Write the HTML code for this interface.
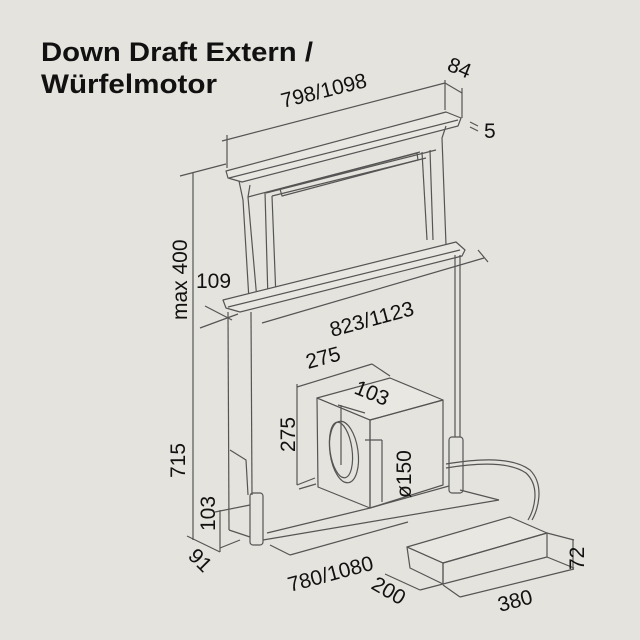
<!DOCTYPE html>
<html><head><meta charset="utf-8"><style>
html,body{margin:0;padding:0;background:#e5e3dd;}
svg{display:block;}
text{font-family:"Liberation Sans",Arial,sans-serif;fill:#111;}
</style></head><body>
<svg width="640" height="640" viewBox="0 0 640 640" xmlns="http://www.w3.org/2000/svg">
<rect width="640" height="640" fill="#e5e3dd"/>
<text x="41" y="61" font-size="27" font-weight="bold" textLength="272" lengthAdjust="spacingAndGlyphs">Down Draft Extern /</text>
<text x="41" y="93" font-size="27" font-weight="bold" textLength="176" lengthAdjust="spacingAndGlyphs">Würfelmotor</text>

<g fill="none" stroke="#555" stroke-width="1.2" stroke-linejoin="round">
<polygon points="226,171 446,112 461,118 458,126 242,182 228,178" fill="#e9e7e1"/>
<line x1="229" y1="178" x2="458" y2="120"/>
<line x1="222" y1="141" x2="445" y2="83"/>
<line x1="227" y1="135" x2="227" y2="168"/>
<line x1="445" y1="80" x2="445" y2="110"/>
<line x1="445" y1="83" x2="462" y2="93"/>
<line x1="462" y1="88" x2="462" y2="118"/>
<line x1="470" y1="122" x2="478" y2="126"/><line x1="470" y1="127" x2="478" y2="131"/>
<polyline points="239,181 243,200 249,300"/>
<polyline points="250,185 248,197 257,300"/>
<line x1="248" y1="197" x2="420" y2="152"/>
<line x1="265" y1="192" x2="268" y2="300"/>
<line x1="266" y1="193" x2="436" y2="150"/>
<line x1="272" y1="196" x2="276" y2="298"/>
<line x1="272" y1="196" x2="426" y2="158"/>
<polygon points="280,189 417,153 418,160 282,196"/>
<line x1="422" y1="152" x2="427" y2="240"/>
<line x1="430" y1="150" x2="433" y2="240"/>
<polyline points="446,126 442,138 446,245"/>
<polygon points="223,300 456,242 465,250 462,256 240,312 226,308" fill="#e9e7e1"/>
<line x1="228" y1="307" x2="460" y2="250"/>
<line x1="262" y1="323" x2="484" y2="258"/>
<line x1="478" y1="250" x2="488" y2="262"/>
<line x1="205" y1="306" x2="232" y2="320"/>
<line x1="200" y1="328" x2="238" y2="314"/>
<line x1="193" y1="173" x2="193" y2="540"/>
<line x1="180" y1="176" x2="226" y2="164"/>
<line x1="228" y1="312" x2="229" y2="530"/>
<line x1="251" y1="312" x2="252" y2="495"/>
<polyline points="230,450 246,460 248,495"/>
<line x1="229" y1="530" x2="250" y2="537"/>
<rect x="250" y="493" width="13" height="52" rx="3"/>
<line x1="455" y1="255" x2="455" y2="437"/>
<line x1="460" y1="255" x2="460" y2="437"/>
<rect x="449" y="437" width="14" height="56" rx="3"/>
<line x1="267" y1="533" x2="370" y2="508"/>
<line x1="299" y1="489" x2="316" y2="484"/>
<line x1="263" y1="540" x2="499" y2="500"/>
<line x1="460" y1="490" x2="499" y2="500"/>
<line x1="370" y1="508" x2="449" y2="486"/>
<line x1="270" y1="545" x2="290" y2="555"/>
<line x1="290" y1="555" x2="408" y2="522"/>
<line x1="220" y1="548" x2="240" y2="540"/>
<line x1="220" y1="510" x2="220" y2="552"/>
<line x1="215" y1="512" x2="250" y2="505"/>
<line x1="187" y1="536" x2="220" y2="552"/>
<polygon points="317,398 390,378 443,400 370,420" fill="#e9e7e1"/>
<polygon points="317,398 370,420 370,508 318,487"/>
<polygon points="370,420 443,400 443,485 370,508"/>
<ellipse cx="344" cy="452" rx="14" ry="31" transform="rotate(-8 344 452)"/>
<ellipse cx="341" cy="450" rx="11" ry="28" transform="rotate(-8 341 450)"/>
<line x1="341" y1="405" x2="341" y2="465"/>
<line x1="338" y1="405" x2="365" y2="413"/>
<line x1="297" y1="387" x2="372" y2="364"/>
<line x1="297" y1="384" x2="297" y2="485"/>
<line x1="372" y1="364" x2="390" y2="376"/>
<line x1="297" y1="485" x2="315" y2="478"/>
<line x1="382" y1="440" x2="382" y2="502"/>
<line x1="365" y1="440" x2="382" y2="440"/>
<path d="M446,464 C470,460 510,455 530,470 C545,485 538,510 532,520"/>
<path d="M446,468 C470,464 507,460 526,473 C541,487 534,510 528,520"/>
<polygon points="407,547 510,517 547,533 443,563" fill="#e9e7e1"/>
<polygon points="443,563 547,533 547,557 443,584"/>
<polygon points="407,547 443,563 443,584 410,568"/>
<line x1="547" y1="533" x2="574" y2="540"/>
<line x1="547" y1="557" x2="574" y2="568"/>
<line x1="573" y1="540" x2="573" y2="569"/>
<line x1="385" y1="574" x2="420" y2="590"/>
<line x1="420" y1="590" x2="443" y2="584"/>
<line x1="443" y1="585" x2="460" y2="597"/>
<line x1="460" y1="597" x2="574" y2="569"/>
</g>

<g font-size="21">
<text x="0" y="0" transform="translate(283,108) rotate(-14)">798/1098</text>
<text x="0" y="0" transform="translate(446,70) rotate(22)">84</text>
<text x="484" y="138">5</text>
<text x="0" y="0" transform="translate(187,320) rotate(-90)">max 400</text>
<text x="196" y="288">109</text>
<text x="0" y="0" transform="translate(332,337) rotate(-15)">823/1123</text>
<text x="0" y="0" transform="translate(308,369) rotate(-15)">275</text>
<text x="0" y="0" transform="translate(353,393) rotate(22)">103</text>
<text x="0" y="0" transform="translate(295,452) rotate(-90)">275</text>
<text x="0" y="0" transform="translate(411,498) rotate(-90)">ø150</text>
<text x="0" y="0" transform="translate(185,478) rotate(-90)">715</text>
<text x="0" y="0" transform="translate(215,531) rotate(-90)">103</text>
<text x="0" y="0" transform="translate(187,557) rotate(45)">91</text>
<text x="0" y="0" transform="translate(290,592) rotate(-15)">780/1080</text>
<text x="0" y="0" transform="translate(370,588) rotate(30)">200</text>
<text x="0" y="0" transform="translate(500,612) rotate(-15)">380</text>
<text x="0" y="0" transform="translate(584,570) rotate(-90)">72</text>
</g>
</svg>
</body></html>
